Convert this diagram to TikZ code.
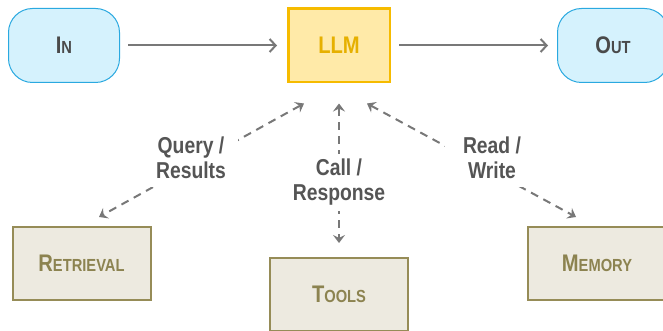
\documentclass[tikz,border=0pt]{standalone}
\usepackage{fontspec}
\setmainfont[FakeStretch=0.84]{Liberation Sans}
\usetikzlibrary{positioning,arrows.meta,calc}

\definecolor{iofill}{HTML}{D5F2FD}
\definecolor{ioline}{HTML}{2AA9E0}
\definecolor{iotext}{HTML}{4A4A4A}
\definecolor{llmfill}{HTML}{FFEAA8}
\definecolor{llmline}{HTML}{F6BB00}
\definecolor{llmtext}{HTML}{E6B000}
\definecolor{resfill}{HTML}{EDEAE0}
\definecolor{resline}{HTML}{968C57}
\definecolor{restext}{HTML}{8C8350}
\definecolor{lbltext}{HTML}{555555}
\definecolor{arrgray}{HTML}{787878}

% fake small caps: big first letter, smaller capitals after it
\newcommand{\smc}[2]{{\fontsize{24}{24}\selectfont #1}{\fontsize{17.5}{17.5}\selectfont #2}}

\begin{document}
\begin{tikzpicture}[
  x=1pt,y=1pt,
  font=\bfseries,
  io/.style={rectangle,rounded corners=24pt,draw=ioline,fill=iofill,line width=1pt,
             minimum width=111pt,minimum height=74pt,text=iotext,inner sep=0pt},
  core/.style={rectangle,draw=llmline,fill=llmfill,line width=2.5pt,
               minimum width=101.5pt,minimum height=73.5pt,text=llmtext,
               font=\bfseries\fontsize{24}{24}\selectfont},
  res/.style={rectangle,draw=resline,fill=resfill,line width=2pt,
              minimum width=138pt,minimum height=73pt,text=restext},
  lbl/.style={fill=white,align=center,text=lbltext,inner sep=0pt,
              font=\bfseries\fontsize{23}{25}\selectfont,
              minimum width=94pt,minimum height=57pt},
  arr/.style={-{Straight Barb[length=6pt,width=13pt]},line width=2pt,arrgray},
  duo/.style={{Stealth[length=8pt,width=12pt,inset=3pt]}-{Stealth[length=8pt,width=12pt,inset=3pt]},
              line width=2pt,arrgray,dash pattern=on 8pt off 6pt},
]
\useasboundingbox (0,0) rectangle (663,-331);

% top row: input, model, output
\node[core] (llm) at (339,-45.5) {LLM};
\node[io,left=167pt of llm] (inp) {\smc{I}{N}};
\node[io,right=166pt of llm] (outp) {\smc{O}{UT}};

\draw[arr,shorten <=8pt,shorten >=10pt] (inp) -- (llm);
\draw[arr,shorten <=8pt,shorten >=9pt] (llm) -- (outp);

% bottom row: helpers of the model
\node[res] (retr) at (81.5,-263.5) {\smc{R}{ETRIEVAL}};
\node[res] (tools) at (339,-294.5) {\smc{T}{OOLS}};
\node[res] (mem) at (597,-263.5) {\smc{M}{EMORY}};

% ends of the dashed links
\coordinate (qa) at ($(llm.south)+(-35,-20)$);
\coordinate (qb) at ($(retr.north)+(17.5,9)$);
\coordinate (ca) at ($(llm.south)+(0,-20)$);
\coordinate (cb) at ($(tools.north)+(0,14)$);
\coordinate (ra) at ($(llm.south)+(28,-20)$);
\coordinate (rb) at ($(mem.north)+(-21,9)$);

\draw[duo] (qa) -- (qb);
\draw[duo] (ca) -- (cb);
\draw[duo] (ra) -- (rb);

\node[lbl] (qlbl) at (191,-158) {Query /\\Results};
\node[lbl] (clbl) at (339,-182.5) {Call /\\Response};
\node[lbl] (rlbl) at (492,-158) {Read /\\Write};
\end{tikzpicture}
\end{document}
